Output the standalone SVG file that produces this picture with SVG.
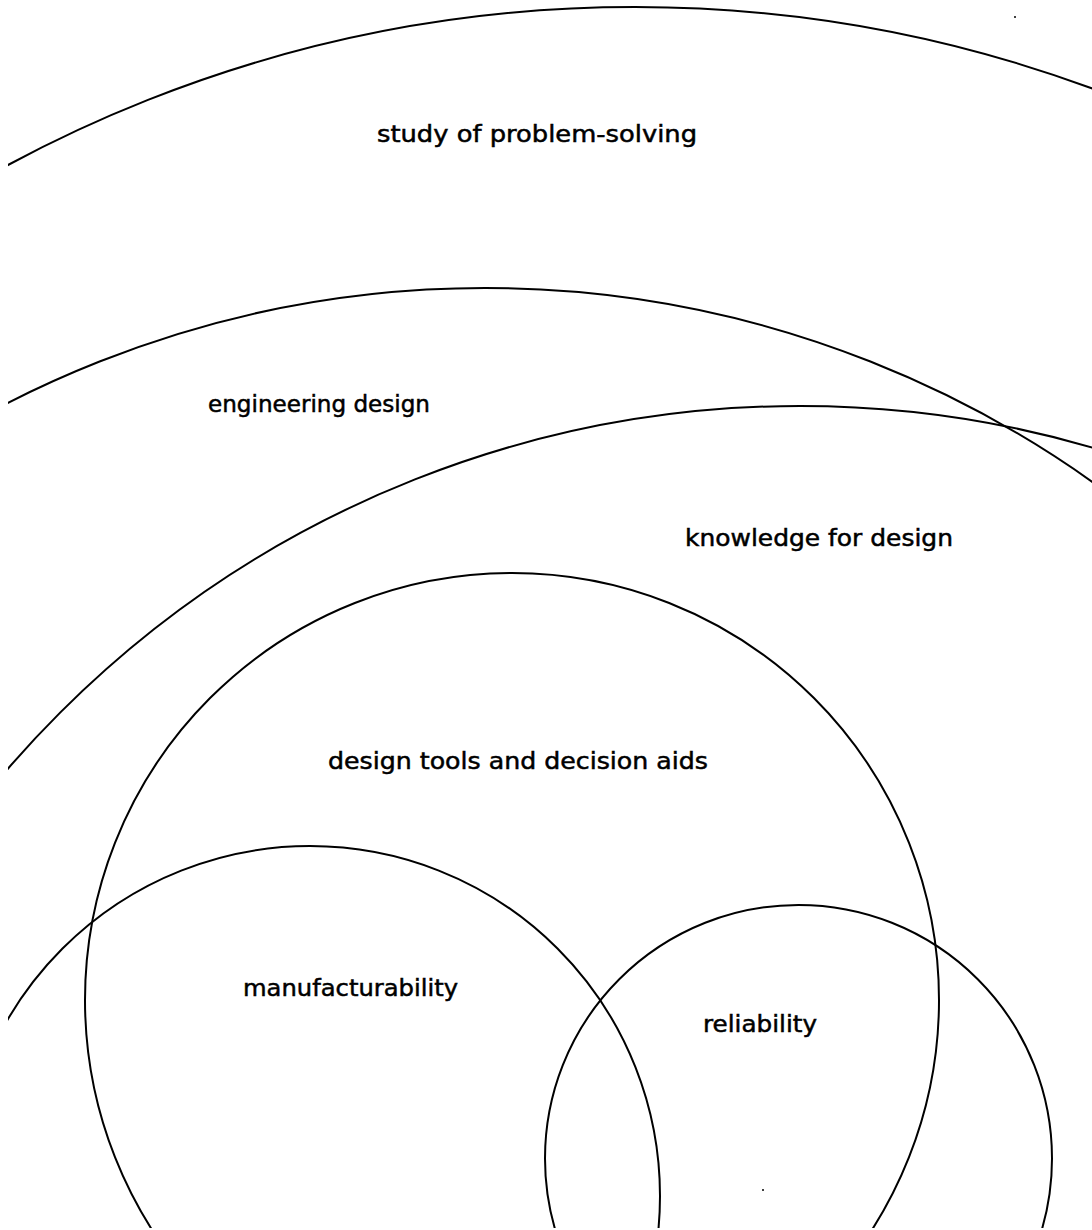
<svg xmlns="http://www.w3.org/2000/svg" width="1092" height="1230" viewBox="0 0 1092 1230">
<style>
.ring{fill:none;stroke:#000;stroke-width:2}
.lbl{font-family:"DejaVu Sans","Liberation Sans",sans-serif;font-size:23px;fill:#000;stroke:#000;stroke-width:0.5}
</style>
<defs>
<clipPath id="frame"><rect x="8" y="0" width="1084" height="1228"/></clipPath>
</defs>
<rect width="1092" height="1230" fill="#fff"/>
<g id="connectors"></g>
<g clip-path="url(#frame)">
<g id="study-of-problem-solving">
<circle class="ring" cx="635" cy="1330" r="1323"/>
</g>
<g id="engineering-design">
<circle class="ring" cx="485" cy="1335" r="1047"/>
</g>
<g id="knowledge-for-design">
<circle class="ring" cx="800" cy="1452" r="1046"/>
</g>
<g id="design-tools-and-decision-aids">
<circle class="ring" cx="512" cy="1000" r="427" stroke-width="1.8"/>
</g>
<g id="manufacturability">
<circle class="ring" cx="310" cy="1196" r="350" stroke-width="1.8"/>
</g>
<g id="reliability">
<circle class="ring" cx="798.5" cy="1158.5" r="253.5" stroke-width="1.8"/>
</g>
</g>
<g id="labels">
<text class="lbl" x="377" y="142" textLength="320" lengthAdjust="spacingAndGlyphs">study of problem-solving</text>
<text class="lbl" x="208" y="412" textLength="222" lengthAdjust="spacingAndGlyphs">engineering design</text>
<text class="lbl" x="685" y="546" textLength="268" lengthAdjust="spacingAndGlyphs">knowledge for design</text>
<text class="lbl" x="328" y="769" textLength="380" lengthAdjust="spacingAndGlyphs">design tools and decision aids</text>
<text class="lbl" x="243" y="996" textLength="215" lengthAdjust="spacingAndGlyphs">manufacturability</text>
<text class="lbl" x="703" y="1032" textLength="114" lengthAdjust="spacingAndGlyphs">reliability</text>
</g>
<circle cx="1015" cy="17" r="1" fill="#000"/>
<circle cx="763" cy="1190" r="1" fill="#000"/>
</svg>
